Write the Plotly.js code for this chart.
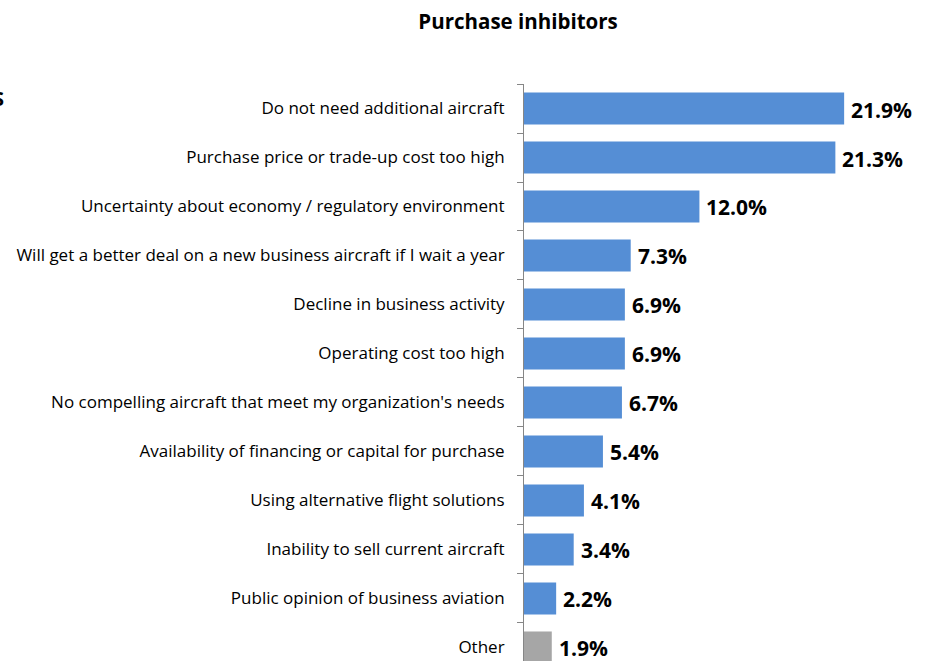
<!DOCTYPE html>
<html><head><meta charset="utf-8">
<script src="https://cdn.plot.ly/plotly-3.0.1.min.js"></script>
<style>html,body{margin:0;padding:0;background:#fff}#chart{width:926px;height:661px}</style>
</head><body><div id="chart"></div>
<script>
const categories = [
  "Do not need additional aircraft",
  "Purchase price or trade-up cost too high",
  "Uncertainty about economy / regulatory environment",
  "Will get a better deal on a new business aircraft if I wait a year",
  "Decline in business activity",
  "Operating cost too high",
  "No compelling aircraft that meet my organization's needs",
  "Availability of financing or capital for purchase",
  "Using alternative flight solutions",
  "Inability to sell current aircraft",
  "Public opinion of business aviation",
  "Other"
];
const values = [21.9, 21.3, 12.0, 7.3, 6.9, 6.9, 6.7, 5.4, 4.1, 3.4, 2.2, 1.9];
const barColors = ["#558ED5","#558ED5","#558ED5","#558ED5","#558ED5","#558ED5","#558ED5","#558ED5","#558ED5","#558ED5","#558ED5","#A6A6A6"];
const labels = values.map(v => v.toFixed(1) + "%");

const FONT = "'Open Sans', sans-serif";
const trace = {
  type: "bar", orientation: "h",
  y: categories, x: values,
  marker: {color: barColors},
  hoverinfo: "none"
};
const valueAnnotations = values.map((v, i) => ({
  x: v, y: categories[i], xref: "x", yref: "y",
  text: "<b>" + labels[i] + "</b>", showarrow: false,
  xanchor: "left", yanchor: "middle", xshift: 5, yshift: -1,
  font: {family: FONT, size: 21, color: "#000"}
}));
const layout = {
  width: 926, height: 661,
  margin: {l: 524, r: 0, t: 84, b: 0, pad: 0},
  paper_bgcolor: "#fff", plot_bgcolor: "#fff",
  title: {text: "<b>Purchase inhibitors</b>", x: 0.5595, xanchor: "center", y: 0.967, yanchor: "middle",
          font: {family: FONT, size: 20.5, color: "#000"}},
  bargap: 0.347,
  showlegend: false,
  xaxis: {range: [0, 27.5], showgrid: false, zeroline: false, showticklabels: false, showline: false, fixedrange: true},
  yaxis: {type: "category", range: [11.276, -0.5], showgrid: false, zeroline: false,
          showline: true, linecolor: "#868686", linewidth: 1,
          ticks: "outside", ticklen: 6, tickcolor: "#868686", tickson: "boundaries",
          ticklabelstandoff: 15,
          tickfont: {family: FONT, size: 17, color: "#000"}},
  annotations: valueAnnotations.concat([{text: "<b>S</b>", xref: "paper", yref: "paper", x: -1.2885, y: 0.975,
                 xanchor: "right", yanchor: "middle", showarrow: false,
                 font: {family: FONT, size: 20, color: "#000"}}])
};
Plotly.newPlot("chart", [trace], layout, {displayModeBar: false, staticPlot: true});
</script></body></html>
